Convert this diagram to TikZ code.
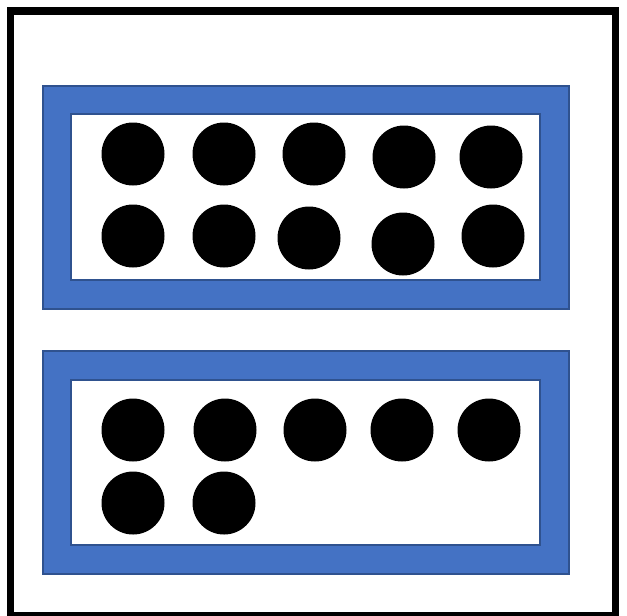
\documentclass[tikz,border=0pt]{standalone}
\usepackage{tikz}
\usepackage{xcolor}
\usetikzlibrary{positioning,calc}
\definecolor{framefill}{HTML}{4472C4}
\definecolor{frameedge}{HTML}{2F528F}

\begin{document}
\begin{tikzpicture}[x=0.3mm,y=-0.3mm,
  dot/.style={circle,fill=black,draw=none,minimum size=18.9mm,inner sep=0pt},
  tray/.style={fill=framefill,draw=frameedge,line width=0.4mm,even odd rule}]
\useasboundingbox (0,0) rectangle (627,615);
% outer box
\draw[line width=2.25mm] (10.5,11) rectangle (615.5,615.5);
% blue trays
\path[tray] (43,86) rectangle (569,309) (71,114) rectangle (540,280);
\path[tray] (43,351) rectangle (569,574) (71,380) rectangle (540,545);
% upper tray dots
\foreach \i/\x/\y in {1/133/154,2/224/154,3/314/154,4/404/157,5/491/157,
                      6/133/236,7/224/236,8/309/238,9/403/244,10/493/236} {
  \node[dot] (up\i) at (\x,\y) {};
}
% lower tray dots
\foreach \i/\x/\y in {1/133/430,2/225/430,3/315/430,4/402/430,5/489/430,
                      6/133/503,7/224/503} {
  \node[dot] (low\i) at (\x,\y) {};
}
\end{tikzpicture}
\end{document}
